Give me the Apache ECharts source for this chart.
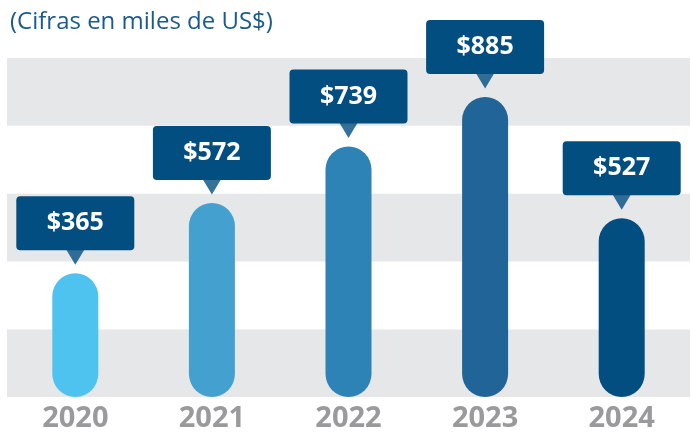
<!DOCTYPE html>
<html>
<head>
<meta charset="utf-8">
<script src="https://cdn.jsdelivr.net/npm/echarts@6/dist/echarts.min.js"></script>
<style>
  html, body { margin: 0; padding: 0; background: #fff; }
  #chart { width: 691px; height: 433px; }
</style>
</head>
<body>
<div id="chart"></div>
<script>
// datos: miles de US$ por año
var years = ["2020", "2021", "2022", "2023", "2024"];
var values = [365, 572, 739, 885, 527];
var barColors = ["#4fc3f0", "#43a0cf", "#2d83b6", "#216598", "#034e80"];

var chart = echarts.init(document.getElementById("chart"));

var barData = values.map(function (v, i) {
  return { value: v, itemStyle: { color: barColors[i] } };
});

var option = {
  animation: false,
  title: {
    text: "(Cifras en miles de US$)",
    left: 5,
    top: 5,
    textStyle: {
      color: "#1a5a8c",
      fontFamily: "Open Sans",
      fontWeight: "normal",
      fontSize: 24
    }
  },
  grid: {
    left: 7,
    right: 1,
    top: 58,
    bottom: 36
  },
  xAxis: {
    type: "category",
    data: years,
    axisLine: { show: false },
    axisTick: { show: false },
    axisLabel: {
      color: "#9a9a9c",
      fontFamily: "Open Sans",
      fontWeight: "bold",
      fontSize: 29,
      margin: 7
    }
  },
  yAxis: {
    type: "value",
    min: 0,
    max: 1000,
    interval: 200,
    axisLine: { show: false },
    axisTick: { show: false },
    axisLabel: { show: false },
    splitLine: { show: false },
    splitArea: {
      show: true,
      areaStyle: { color: ["#e6e7e9", "#ffffff"] }
    }
  },
  series: [
    {
      type: "bar",
      data: barData,
      barWidth: 46,
      itemStyle: { borderRadius: 23 },
      label: {
        show: true,
        position: "top",
        distance: 23,
        formatter: "${c}",
        color: "#fff",
        fontFamily: "Open Sans",
        fontWeight: "bold",
        fontSize: 25,
        backgroundColor: "#034e80",
        borderRadius: 4,
        width: 118,
        height: 54,
        lineHeight: 54,
        align: "center",
        padding: 0
      },
      z: 3
    },
    {
      // piquito del globo
      type: "scatter",
      data: values,
      symbol: "triangle",
      symbolRotate: 180,
      symbolSize: [18, 15],
      symbolOffset: [0, -16],
      itemStyle: { color: "#034e80" },
      silent: true,
      z: 4
    }
  ]
};

chart.setOption(option);
</script>
</body>
</html>
